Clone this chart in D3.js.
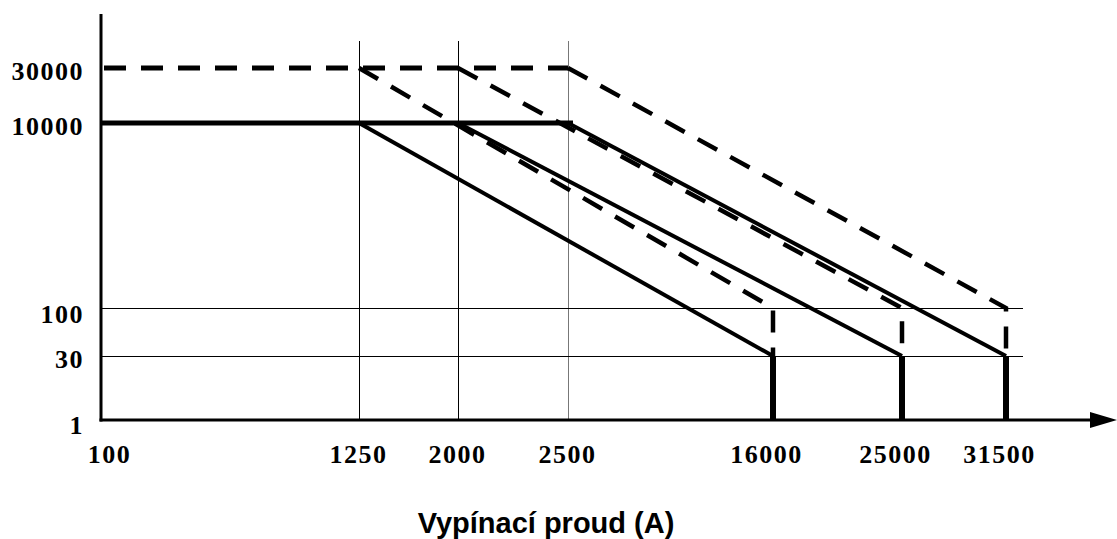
<!DOCTYPE html>
<html>
<head>
<meta charset="utf-8">
<script src="https://cdn.jsdelivr.net/npm/d3@7"></script>
<style>
  html, body { margin: 0; padding: 0; background: #fff; }
  svg { display: block; }
</style>
</head>
<body>
<svg id="chart"></svg>
<script>
// data
const xTicks = [100, 1250, 2000, 2500, 16000, 25000, 31500];
const yTicks = [1, 30, 100, 10000, 30000];
const ratedCurrent = [1250, 2000, 2500];
const breakingCurrent = [16000, 25000, 31500];
const solidOps = [10000, 30, 1];     // mechanical -> at Isc -> axis
const dashedOps = [30000, 100, 30];
const gridY = [30, 100];
const xTitle = 'Vypínací proud (A)';

const width = 1117;
const height = 539;
const svg = d3.select('#chart').attr('width', width).attr('height', height);

// schematic (not proportional) scales
const x = d3.scaleLinear()
  .domain([100, 1250, 2000, 2500, 16000, 25000, 31500])
  .range([101, 359, 458, 568, 773, 902, 1006]);
const y = d3.scaleLinear()
  .domain([1, 30, 100, 10000, 30000])
  .range([420, 356, 308, 123, 68]);

const line = d3.line().x((d) => x(d[0])).y((d) => y(d[1]));

// grid
svg.append('g')
  .selectAll('line')
  .data(ratedCurrent)
  .enter()
  .append('line')
  .attr('x1', (d) => x(d) + 0.5)
  .attr('x2', (d) => x(d) + 0.5)
  .attr('y1', 41)
  .attr('y2', y(1))
  .attr('stroke', (d, i) => (i === 2 ? '#777' : '#000'))
  .attr('stroke-width', 1);

svg.append('g')
  .selectAll('line')
  .data(gridY)
  .enter()
  .append('line')
  .attr('x1', x(100))
  .attr('x2', 1023)
  .attr('y1', (d) => y(d) + 0.5)
  .attr('y2', (d) => y(d) + 0.5)
  .attr('stroke', '#000')
  .attr('stroke-width', 1);

// horizontal limits
svg.append('path')
  .attr('d', line([[100, 30000], [2500, 30000]]))
  .attr('fill', 'none')
  .attr('stroke', '#000')
  .attr('stroke-width', 5)
  .attr('stroke-dasharray', '22 15')
  .attr('stroke-dashoffset', -3);

svg.append('path')
  .attr('d', line([[100, 10000], [2500, 10000]]) + 'h5')
  .attr('fill', 'none')
  .attr('stroke', '#000')
  .attr('stroke-width', 5);

// dashed curves
svg.append('g')
  .selectAll('path')
  .data(ratedCurrent)
  .enter()
  .append('path')
  .attr('d', (d, i) => line([[d, dashedOps[0]], [breakingCurrent[i], dashedOps[1]], [breakingCurrent[i], dashedOps[2]]]))
  .attr('fill', 'none')
  .attr('stroke', '#000')
  .attr('stroke-width', 4.5)
  .attr('stroke-dasharray', '22 15');

// solid curves
svg.append('g')
  .selectAll('path')
  .data(ratedCurrent)
  .enter()
  .append('path')
  .attr('d', (d, i) => line([[d, solidOps[0]], [breakingCurrent[i], solidOps[1]]]))
  .attr('fill', 'none')
  .attr('stroke', '#000')
  .attr('stroke-width', 4);

svg.append('g')
  .selectAll('line')
  .data(breakingCurrent)
  .enter()
  .append('line')
  .attr('x1', (d) => x(d))
  .attr('x2', (d) => x(d))
  .attr('y1', y(solidOps[1]))
  .attr('y2', y(solidOps[2]))
  .attr('stroke', '#000')
  .attr('stroke-width', 6);

// axes
svg.append('line')
  .attr('x1', x(100))
  .attr('x2', x(100))
  .attr('y1', 14)
  .attr('y2', y(1) + 1.5)
  .attr('stroke', '#000')
  .attr('stroke-width', 3);

svg.append('line')
  .attr('x1', x(100) - 1.5)
  .attr('x2', 1092)
  .attr('y1', y(1))
  .attr('y2', y(1))
  .attr('stroke', '#000')
  .attr('stroke-width', 3);

svg.append('path')
  .attr('d', `M1090,${y(1) - 8}L1117,${y(1)}L1090,${y(1) + 8}Z`)
  .attr('fill', '#000');

const labelFont = '"Liberation Serif", "Times New Roman", serif';

const xAxis = svg.append('g')
  .attr('transform', `translate(0,${y(1)})`)
  .call(d3.axisBottom(x).tickValues(xTicks).tickSize(0).tickPadding(0).tickFormat(d3.format('d')));
xAxis.select('.domain').remove();
xAxis.selectAll('text')
  .attr('y', 43)
  .attr('dy', 0)
  .attr('dx', (d, i) => (i === 0 ? 8 : i >= 4 ? -7 : -1))
  .attr('font-family', labelFont)
  .attr('font-weight', 'bold')
  .attr('font-size', 26)
  .attr('letter-spacing', 1.5)
  .attr('fill', '#000');

const yAxis = svg.append('g')
  .attr('transform', `translate(${x(100)},0)`)
  .call(d3.axisLeft(y).tickValues(yTicks).tickSize(0).tickPadding(0).tickFormat(d3.format('d')));
yAxis.select('.domain').remove();
yAxis.selectAll('text')
  .attr('x', -17)
  .attr('dy', (d) => (d === 1 ? 13 : d === 100 ? 14 : 11))
  .attr('font-family', labelFont)
  .attr('font-weight', 'bold')
  .attr('font-size', 26)
  .attr('letter-spacing', 1.5)
  .attr('fill', '#000');

// axis title
svg.append('text')
  .text(xTitle)
  .attr('x', 546)
  .attr('y', 533)
  .attr('text-anchor', 'middle')
  .attr('font-family', '"Liberation Sans", Arial, sans-serif')
  .attr('font-weight', 'bold')
  .attr('font-size', 29)
  .attr('fill', '#000');
</script>
</body>
</html>
